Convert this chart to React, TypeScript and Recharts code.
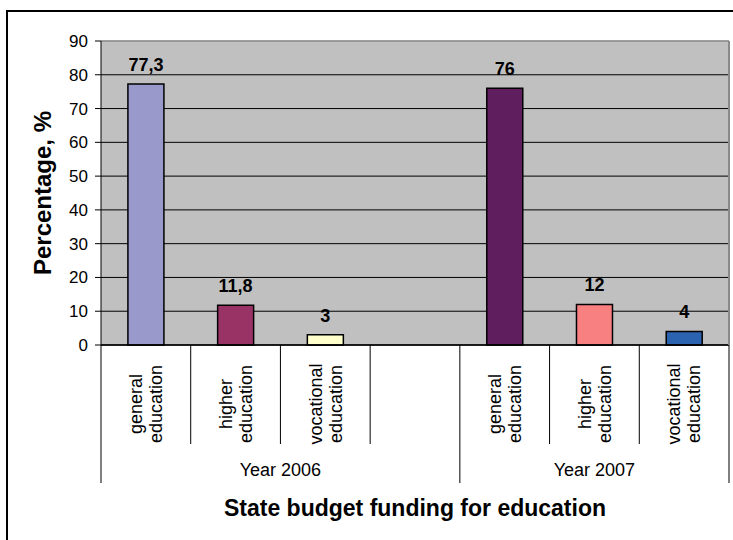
import React from "react";
import { Bar, BarChart, CartesianGrid, Cell, Label, LabelList, ReferenceLine, XAxis, YAxis } from "recharts";

// one slot per x category; the blank one separates the two years
const categories = [
  "general education",
  "higher education",
  "vocational education",
  "",
  "general education",
  "higher education",
  "vocational education",
];
const years = ["Year 2006", "Year 2006", "Year 2006", "Year 2006", "Year 2007", "Year 2007", "Year 2007"];
const shares = [77.3, 11.8, 3, null, 76, 12, 4];
const barColors = ["#9999CC", "#993366", "#FFFFCC", "transparent", "#5F1F5F", "#F88080", "#2C63B0"];
const yTicks = [0, 10, 20, 30, 40, 50, 60, 70, 80, 90];

const FONT = "'Liberation Sans', Arial, sans-serif";

const data = categories.map((name, i) => ({
  key: `c${i}`,
  name,
  year: years[i],
  value: shares[i],
}));

const fmt = (v: any) => (v == null ? "" : String(v).replace(".", ","));

function CategoryTick(props: any) {
  const { x, y, payload } = props;
  const i = payload.index;
  const half = payload.offset ?? 44.8;
  const item = data[i];
  const words = item.name ? item.name.split(" ") : [];
  const fs = 18;
  const lh = 20;
  const cy = y + 59;
  const first = years.indexOf(item.year);
  const count = years.filter((yr) => yr === item.year).length;
  const isGroupStart = i === first;
  const isLast = i === data.length - 1;

  return (
    <g>
      <line x1={x - half} x2={x - half} y1={y} y2={y + (isGroupStart ? 138 : 99)} stroke="#000" strokeWidth={1} />
      {isLast && <line x1={x + half} x2={x + half} y1={y} y2={y + 138} stroke="#000" strokeWidth={1} />}
      {words.length > 0 && (
        <text
          transform={`rotate(-90 ${x} ${cy})`}
          textAnchor="middle"
          fontFamily={FONT}
          fontSize={fs}
          fill="#000"
        >
          {words.map((w: string, j: number) => (
            <tspan key={j} x={x} y={cy + (j - (words.length - 1) / 2) * lh + 0.35 * fs}>
              {w}
            </tspan>
          ))}
        </text>
      )}
      {isGroupStart && (
        <text
          x={x - half + count * half}
          y={y + 131}
          textAnchor="middle"
          fontFamily={FONT}
          fontSize={18}
          fill="#000"
        >
          {item.year}
        </text>
      )}
    </g>
  );
}

export default function App() {
  return (
    <div
      style={{
        position: "absolute",
        left: 0,
        top: 0,
        width: 733,
        height: 540,
        overflow: "hidden",
        background: "#fff",
      }}
    >
      <div
        style={{
          position: "absolute",
          left: 6,
          top: 10,
          width: 740,
          height: 540,
          border: "2px solid #000",
        }}
      />
      <BarChart
        width={733}
        height={540}
        data={data}
        margin={{ top: 41, right: 0, left: 0, bottom: 0 }}
        barCategoryGap="30%"
        style={{ position: "absolute", left: 0, top: 0 }}
      >
        <CartesianGrid vertical={false} stroke="#000" fill="#C0C0C0" fillOpacity={1} />
        <ReferenceLine y={90} stroke="#A8A8A8" strokeWidth={1.5} />
        <XAxis
          dataKey="key"
          height={195}
          interval={0}
          tickSize={0}
          tickMargin={0}
          tickLine={false}
          axisLine={{ stroke: "#000", strokeWidth: 1.5 }}
          tick={<CategoryTick />}
        >
          <Label
            content={({ viewBox }: any) => (
              <text
                x={viewBox.x + viewBox.width / 2}
                y={viewBox.y + viewBox.height - 24}
                textAnchor="middle"
                fontFamily={FONT}
                fontWeight="bold"
                fontSize={23}
                fill="#000"
              >
                State budget funding for education
              </text>
            )}
          />
        </XAxis>
        <YAxis
          domain={[0, 90]}
          ticks={yTicks}
          width={101}
          tickSize={6}
          tickMargin={7}
          axisLine={{ stroke: "#000" }}
          tickLine={{ stroke: "#000" }}
          tick={{ fill: "#000", fontSize: 17, fontFamily: FONT }}
        >
          <Label
            content={({ viewBox }: any) => {
              const cx = viewBox.x + 43;
              const cy = viewBox.y + viewBox.height / 2;
              return (
                <text
                  x={cx}
                  y={cy}
                  dy="0.35em"
                  transform={`rotate(-90 ${cx} ${cy})`}
                  textAnchor="middle"
                  fontFamily={FONT}
                  fontWeight="bold"
                  fontSize={24}
                  fill="#000"
                >
                  Percentage, %
                </text>
              );
            }}
          />
        </YAxis>
        <YAxis
          yAxisId="frame"
          orientation="right"
          width={4}
          tick={false}
          tickLine={false}
          axisLine={{ stroke: "#8A8A8A", strokeWidth: 2 }}
        />
        <Bar dataKey="value" stroke="#000" strokeWidth={1.5} isAnimationActive={false}>
          {data.map((d, i) => (
            <Cell key={d.key} fill={barColors[i]} />
          ))}
          <LabelList
            dataKey="value"
            position="top"
            offset={13}
            formatter={fmt}
            fill="#000"
            fontSize={18}
            fontWeight="bold"
            fontFamily={FONT}
          />
        </Bar>
      </BarChart>
    </div>
  );
}
